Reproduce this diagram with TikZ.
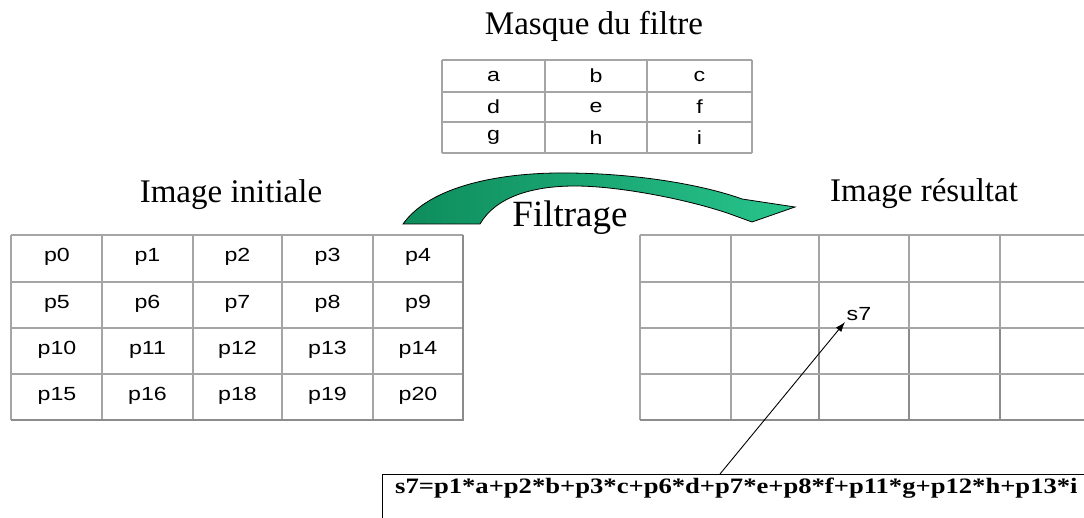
\documentclass[tikz,border=0pt]{standalone}
\usepackage{fontspec}
\setmainfont{Liberation Serif}
\newfontfamily\cellfont{Liberation Sans}
\usetikzlibrary{arrows.meta}
\definecolor{gridgray}{RGB}{165,165,165}
\definecolor{arrowdark}{RGB}{14,140,92}
\definecolor{arrowlight}{RGB}{40,196,140}
\newcommand{\widetext}[1]{\scalebox{1.22}[1]{#1}}
\begin{document}
\begin{tikzpicture}[x=1pt,y=-1pt,
  gridline/.style={draw=gridgray, line width=1.3pt},
  heavyline/.style={draw=gridgray!85!black, line width=2pt},
  title/.style={font=\fontsize{33}{36}\selectfont, anchor=base, inner sep=0},
  cell/.style={font=\cellfont\fontsize{19}{21}\selectfont, inner sep=0},
  ]
\useasboundingbox (0,0) rectangle (1084,518);
\fill[white] (0,0) rectangle (1084,518);
\clip (0,0) rectangle (1084,518);

% ---- filter mask (3x3) ----
\node[title] (tmask) at (594,35) {Masque du filtre};
\foreach \x in {442,545,647,752} \draw[gridline] (\x,60) -- (\x,153);
\foreach \y in {60,92,122,153} \draw[gridline] (442,\y) -- (752,\y);
\foreach \t [count=\i from 0] in {a,b,c,d,e,f,g,h,i}{
  \pgfmathsetmacro\cx{{493.5,596,699.5}[mod(\i,3)]}
  \pgfmathsetmacro\cy{{76,107,137.5}[int(\i/3)]}
  \node[cell] (m-\t) at (\cx,\cy) {\widetext{\t}};
}

% ---- input image ----
\node[title] (tin) at (231,203) {Image initiale};
\foreach \x in {11,102,193,282,373} \draw[gridline] (\x,235) -- (\x,420);
\foreach \y in {235,282,328,374} \draw[gridline] (11,\y) -- (463,\y);
\draw[heavyline] (11,420) -- (463,420) -- (463,235);
\foreach \t [count=\i from 0] in {p0,p1,p2,p3,p4,p5,p6,p7,p8,p9,p10,p11,p12,p13,p14,p15,p16,p18,p19,p20}{
  \pgfmathsetmacro\cx{{57,147.5,237.5,327.5,418}[mod(\i,5)]}
  \pgfmathsetmacro\cy{{257,303.5,349.5,395.5}[int(\i/5)]}
  \node[cell] (in-\i) at (\cx,\cy) {\widetext{\t}};
}

% ---- output image ----
\node[title] (tout) at (924,202) {Image résultat};
\foreach \x in {640,731,819,909,1000} \draw[gridline] (\x,235) -- (\x,420);
\foreach \x in {819,909,1000} \draw[heavyline] (\x,328) -- (\x,420);
\foreach \y in {235,282,328,374} \draw[gridline] (640,\y) -- (1090,\y);
\draw[heavyline] (640,420) -- (1090,420);
\node[cell, anchor=south west, inner sep=1.5pt] (s7) at (845,322) {\widetext{s7}};

% ---- curved "Filtrage" arrow ----
\path[draw=black, line width=0.8pt, left color=arrowdark, right color=arrowlight]
  (403,224) .. controls (430,186) and (500,172) .. (570,173)
  .. controls (650,174) and (712,188) .. (742,199)
  -- (795,207) -- (752,222) -- (730,214)
  .. controls (690,200) and (620,186) .. (575,186)
  .. controls (530,186) and (495,198) .. (480,224) -- cycle;
\node[font=\fontsize{37}{40}\selectfont, anchor=base, inner sep=1pt] (filt) at (570,227) {Filtrage};

% ---- formula box and its arrow ----
\node[draw=black, line width=1.2pt, anchor=north west, minimum width=720pt,
      minimum height=60pt, inner sep=0] (formula) at (382,474) {};
\node[anchor=base west, inner sep=0, font=\bfseries\fontsize{22}{24}\selectfont] (eq) at (395,493)
  {\scalebox{1.21}[1]{s7=p1*a+p2*b+p3*c+p6*d+p7*e+p8*f+p11*g+p12*h+p13*i}};
\coordinate (src) at (720,474);
\draw[line width=0.9pt, -{Latex[length=10pt,width=7pt]}] (src) -- (s7.south west);
\end{tikzpicture}
\end{document}
